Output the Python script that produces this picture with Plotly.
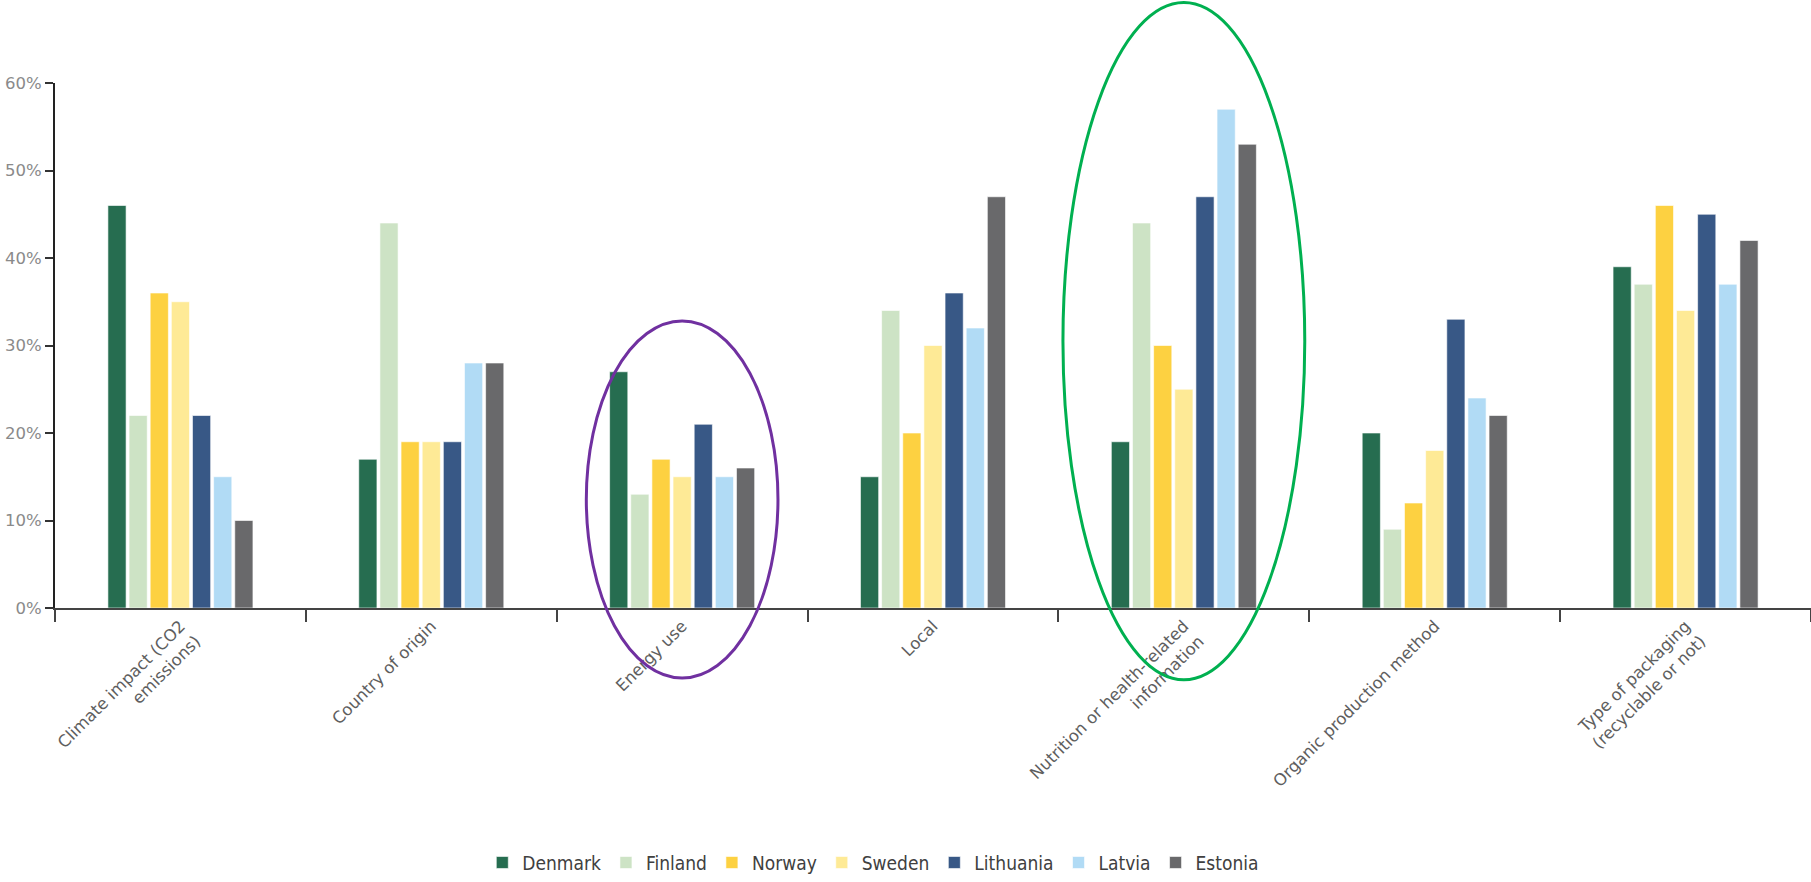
import plotly.graph_objects as go

categories = [
    "Climate impact (CO2<br>emissions)",
    "Country of origin",
    "Energy use",
    "Local",
    "Nutrition or health-related<br>information",
    "Organic production method",
    "Type of packaging<br>(recyclable or not)",
]
countries = ["Denmark", "Finland", "Norway", "Sweden", "Lithuania", "Latvia", "Estonia"]

denmark = [0.46, 0.17, 0.27, 0.15, 0.19, 0.20, 0.39]
finland = [0.22, 0.44, 0.13, 0.34, 0.44, 0.09, 0.37]
norway = [0.36, 0.19, 0.17, 0.20, 0.30, 0.12, 0.46]
sweden = [0.35, 0.19, 0.15, 0.30, 0.25, 0.18, 0.34]
lithuania = [0.22, 0.19, 0.21, 0.36, 0.47, 0.33, 0.45]
latvia = [0.15, 0.28, 0.15, 0.32, 0.57, 0.24, 0.37]
estonia = [0.10, 0.28, 0.16, 0.47, 0.53, 0.22, 0.42]

series = [denmark, finland, norway, sweden, lithuania, latvia, estonia]
colors = ["#266D50", "#CDE3C5", "#FDD141", "#FEEA96", "#385886", "#B1DBF5", "#69696B"]

y_ticks = [0, 0.1, 0.2, 0.3, 0.4, 0.5, 0.6]
y_tick_labels = ["0%", "10%", "20%", "30%", "40%", "50%", "60%"]

fig = go.Figure()
for name, vals, col in zip(countries, series, colors):
    fig.add_trace(go.Bar(
        x=categories, y=vals, name=name,
        marker=dict(color=col, line=dict(color="rgba(255,255,255,0.6)", width=1)),
    ))

# highlight ellipses: (category index, half width in bands, centre value, half height)
highlights = [
    (2, 0.382, 0.124, 0.204, "#7030A0"),
    (4, 0.482, 0.305, 0.387, "#00B050"),
]
ymax = 0.6
n = len(categories)
shapes = []
for idx, hw, yc, hh, col in highlights:
    xc = (idx + 0.5) / n
    shapes.append(dict(
        type="circle", xref="paper", yref="paper",
        x0=xc - hw / n, x1=xc + hw / n,
        y0=(yc - hh) / ymax, y1=(yc + hh) / ymax,
        line=dict(color=col, width=3), layer="above",
    ))

tick_font = "DejaVu Sans, Open Sans, sans-serif"

fig.update_layout(
    width=1811, height=882,
    margin=dict(l=55, r=0, t=83, b=271),
    paper_bgcolor="white", plot_bgcolor="white",
    barmode="group", bargap=0.41, bargroupgap=0.14,
    shapes=shapes,
    legend=dict(
        orientation="h", x=0.466, xanchor="center", y=-0.485, yanchor="middle",
        font=dict(family="DejaVu Sans Condensed, Liberation Sans Narrow, sans-serif", size=19, color="#404040"),
        itemwidth=30, tracegroupgap=0,
    ),
    xaxis=dict(
        showline=True, linecolor="#444444", linewidth=2,
        ticks="outside", tickson="boundaries", ticklen=12, tickcolor="#444444", tickwidth=2,
        tickangle=-45, tickfont=dict(family=tick_font, size=16.5, color="#5e5e5e"),
        showgrid=False, zeroline=False, automargin=False,
    ),
    yaxis=dict(
        range=[0, ymax], tickvals=y_ticks, ticktext=y_tick_labels,
        showline=True, linecolor="#222222", linewidth=2,
        ticks="outside", ticklen=8, tickcolor="#333333", tickwidth=2,
        tickfont=dict(family=tick_font, size=16.5, color="#8a8a8a"),
        showgrid=False, zeroline=False, automargin=False,
    ),
)

fig.write_html("out.html")
